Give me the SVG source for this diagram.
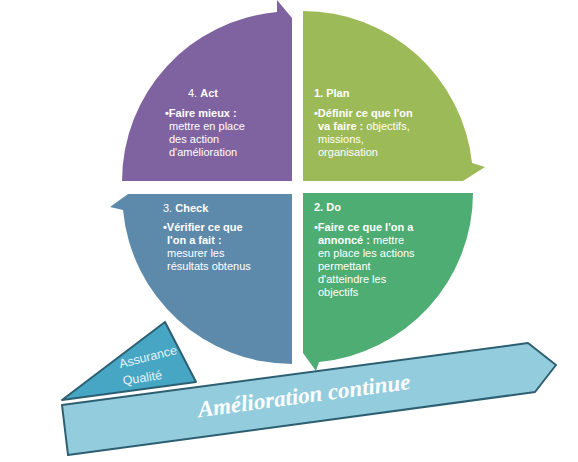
<svg xmlns="http://www.w3.org/2000/svg" width="578" height="462" viewBox="0 0 578 462">
<style>
.t{font-family:"Liberation Sans",Arial,sans-serif;font-size:11px;fill:#ffffff}
.b{font-weight:bold}
.edge{stroke:#2d5f72;stroke-width:2;stroke-linejoin:round}
.aq{font-family:"Liberation Sans",Arial,sans-serif;font-size:12.5px;fill:#e6f3f8}
</style>
<rect width="578" height="462" fill="#ffffff"/>
<g id="act">
<path d="M292,181 L122,181 A170,170 0 0 1 277,12 L277,0 L292,18 Z" fill="#7f63a1"/>
<text class="t" x="188" y="97">4. <tspan class="b">Act</tspan></text>
<text class="t b" x="165" y="117">•Faire mieux :</text>
<text class="t" x="169" y="130">mettre en place</text>
<text class="t" x="169" y="143">des action</text>
<text class="t" x="169" y="156">d'amélioration</text>
</g>
<g id="plan">
<path d="M303,11 A170,170 0 0 1 472,163 L485,167 L463,181 L303,181 Z" fill="#9cbb58"/>
<text class="t b" x="314" y="97">1. Plan</text>
<text class="t b" x="314" y="117">•Définir ce que l'on</text>
<text class="t" x="318" y="130"><tspan class="b">va faire : </tspan>objectifs,</text>
<text class="t" x="318" y="143">missions,</text>
<text class="t" x="318" y="156">organisation</text>
</g>
<g id="do">
<path d="M303,193 L473,193 A170,170 0 0 1 319,362 L316,371 L303,353 Z" fill="#4ead73"/>
<text class="t b" x="314" y="211">2. Do</text>
<text class="t b" x="314" y="231">•Faire ce que l'on a</text>
<text class="t" x="318" y="244"><tspan class="b">annoncé : </tspan>mettre</text>
<text class="t" x="318" y="257">en place les actions</text>
<text class="t" x="318" y="270">permettant</text>
<text class="t" x="318" y="283">d'atteindre les</text>
<text class="t" x="318" y="296">objectifs</text>
</g>
<g id="check">
<path d="M292,194 L292,364 A170,170 0 0 1 123,210 L110,207 L128,194 Z" fill="#5d8aab"/>
<text class="t" x="163" y="212">3. <tspan class="b">Check</tspan></text>
<text class="t b" x="163" y="231">•Vérifier ce que</text>
<text class="t b" x="167" y="244">l'on a fait :</text>
<text class="t" x="167" y="257">mesurer les</text>
<text class="t" x="167" y="270">résultats obtenus</text>
</g>
<g id="assurance">
<polygon class="edge" points="165,322 62,400 196,382" fill="#46a6c4"/>
<text class="aq" text-anchor="middle" transform="translate(149,361) rotate(-14)">Assurance</text>
<text class="aq" text-anchor="middle" transform="translate(143,382) rotate(-9)">Qualité</text>
</g>
<g id="banner">
<polygon class="edge" points="62,405 528,343 556,365 535,392 68,455" fill="#93cddd"/>
<text text-anchor="middle" transform="translate(305,403) rotate(-7.6)" style="font-family:'Liberation Serif',serif;font-style:italic;font-weight:bold;font-size:23px;fill:#ffffff">Amélioration continue</text>
</g>
<g id="connectors"/>
</svg>
